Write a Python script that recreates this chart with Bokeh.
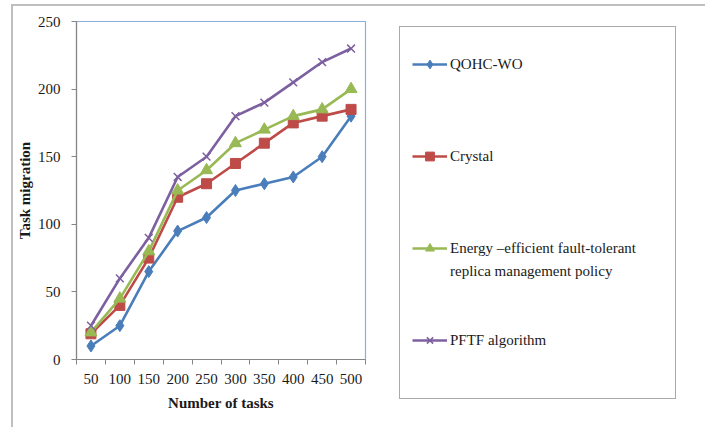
from bokeh.plotting import figure
from bokeh.models import FixedTicker, Legend, LegendItem, Range1d
from bokeh.embed import file_html
from bokeh.resources import INLINE

tasks = [50, 100, 150, 200, 250, 300, 350, 400, 450, 500]
qohc_wo = [10, 25, 65, 95, 105, 125, 130, 135, 150, 180]
crystal = [19, 40, 75, 120, 130, 145, 160, 175, 180, 185]
energy = [20, 45, 80, 125, 140, 160, 170, 180, 185, 200]
pftf = [25, 60, 90, 135, 150, 180, 190, 205, 220, 230]
y_ticks = [0, 50, 100, 150, 200, 250]

names = ["QOHC-WO", "Crystal", "Energy \u2013efficient fault-tolerant", "PFTF algorithm"]
energy_line2 = "replica management policy"
colors = ["#4A7EBB", "#BE4B48", "#98B954", "#7D60A0"]

FONT = "Liberation Serif"

p = figure(width=692, height=421, output_backend="svg", toolbar_location=None,
           x_range=Range1d(25, 525), y_range=Range1d(0, 250),
           min_border_left=61, min_border_right=342, min_border_top=15,
           min_border_bottom=68)
p.styles = {"margin-left": "11px", "margin-top": "4px",
            "border-left": "2px solid #BFBFBF", "border-top": "2px solid #BFBFBF"}
p.frame_width = 289
p.frame_height = 338
p.grid.visible = False
p.outline_line_color = "#8EAEDC"
p.outline_line_width = 1.2
p.background_fill_color = "white"

step = tasks[1] - tasks[0]
p.xaxis.ticker = FixedTicker(ticks=tasks,
                             minor_ticks=[t - step / 2 for t in tasks] + [tasks[-1] + step / 2])
p.xaxis.major_tick_out = 5
p.xaxis.major_tick_in = 0
p.xaxis.major_tick_line_alpha = 0
p.xaxis.minor_tick_out = 5
p.xaxis.minor_tick_in = 0
p.xaxis.minor_tick_line_color = "#868686"
p.xaxis.major_label_standoff = 9

p.yaxis.ticker = FixedTicker(ticks=y_ticks)
p.yaxis.major_tick_out = 5
p.yaxis.major_tick_in = 0
p.yaxis.minor_tick_line_alpha = 0
p.yaxis.major_tick_line_color = "#868686"
p.yaxis.major_label_standoff = 11

for ax in (p.xaxis, p.yaxis):
    ax.axis_line_color = "#868686"
    ax.axis_line_width = 1.2
    ax.major_label_text_font = FONT
    ax.major_label_text_font_size = "15px"
    ax.major_label_text_color = "#1a1a1a"
    ax.axis_label_text_font = FONT
    ax.axis_label_text_font_size = "15px"
    ax.axis_label_text_font_style = "bold"
    ax.axis_label_text_color = "#1a1a1a"

p.xaxis.axis_label = "Number of tasks"
p.xaxis.axis_label_standoff = 8
p.yaxis.axis_label = "Task migration"
p.yaxis.axis_label_standoff = 2

series = [qohc_wo, crystal, energy, pftf]
markers = ["diamond", "square", "triangle", "x"]
sizes = [12, 10, 12, 11]
main_items = []
for name, ys, c, m, s in zip(names, series, colors, markers, sizes):
    r1 = p.line(tasks, ys, line_color=c, line_width=2.6)
    if m == "x":
        r2 = p.scatter(tasks, ys, marker=m, size=s, line_color=c, line_width=1.5)
    else:
        r2 = p.scatter(tasks, ys, marker=m, size=s, fill_color=c, line_color=c)
    main_items.append(LegendItem(label=name, renderers=[r1, r2]))

# invisible renderer used for spacer rows of the legend
dummy = p.line(x=[], y=[], line_alpha=0)

def blank(text=" "):
    return LegendItem(label=text, renderers=[dummy])

items = [main_items[0], blank(), blank(), blank(),
         main_items[1], blank(), blank(), blank(),
         main_items[2], blank(energy_line2), blank(), blank(),
         main_items[3], blank("\u00a0\n\u00a0")]

legend = Legend(items=items, location=(34, -40), padding=12, margin=0,
                spacing=1, glyph_width=35, glyph_height=22, label_height=22,
                label_width=213, label_standoff=3,
                label_text_font=FONT, label_text_font_size="15px",
                label_text_color="#1a1a1a", label_text_line_height=1.1,
                title=" ", title_location="above", title_text_font_size="12px",
                title_standoff=0,
                border_line_color="#555555", border_line_width=1.5,
                background_fill_alpha=0)
p.add_layout(legend, "right")

open("out.html", "w").write(file_html(p, INLINE))
